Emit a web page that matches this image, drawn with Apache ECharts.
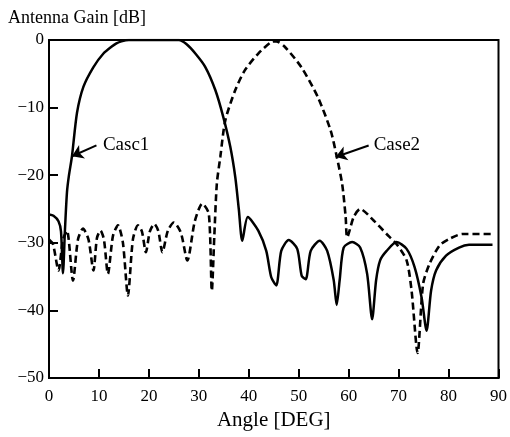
<!DOCTYPE html>
<html>
<head>
<meta charset="utf-8">
<script src="https://cdn.jsdelivr.net/npm/echarts@6/dist/echarts.min.js"></script>
<style>html,body{margin:0;padding:0;background:#fff}#c{width:510px;height:437px}</style>
</head>
<body>
<div id="c"></div>
<script>
const xTicks = [0, 10, 20, 30, 40, 50, 60, 70, 80, 90];
const yTicks = [-50, -40, -30, -20, -10, 0];

const case1Angle = [0, 0.9, 1.9, 2.4, 2.8, 3.2, 3.6, 4.0, 4.6, 5.6, 6.9, 8.9, 10.9, 12.5, 13.5, 14.5, 16, 20, 24, 26, 27.5, 29.3, 31.3, 33.3, 34.9, 36.3, 37.3, 38.0, 38.7, 39.8, 41.9, 43.5, 44.5, 45.5, 46.5, 48.0, 49.7, 50.6, 51.4, 52.4, 54.2, 55.7, 57.0, 57.6, 58.2, 59.0, 60.7, 62.3, 63.7, 64.7, 65.5, 66.3, 67.6, 69.6, 71.6, 73.2, 74.6, 75.6, 76.5, 77.5, 79.5, 82.1, 84.1, 88.8];
const case1Gain = [-25.8, -26.0, -26.8, -28.3, -34.5, -28.0, -22.5, -20.0, -17.2, -10.8, -6.9, -4.0, -2.0, -1.0, -0.5, -0.2, 0, 0, 0, 0, -0.6, -2.0, -4.0, -7.4, -11.4, -15.8, -20.3, -25.0, -29.7, -26.2, -28.2, -31.2, -35.1, -36.3, -31.2, -29.6, -30.9, -34.9, -35.4, -31.2, -29.7, -31.2, -35.5, -39.2, -35.5, -30.7, -29.9, -30.7, -34.6, -41.3, -35.5, -32.6, -31.2, -29.9, -30.9, -33.6, -38.1, -43.0, -37.1, -34.1, -31.9, -30.7, -30.3, -30.3];

const case2Angle = [0, 0.8, 1.9, 2.8, 3.6, 4.8, 5.8, 6.8, 7.9, 8.9, 9.6, 10.3, 11.0, 11.8, 12.8, 13.8, 14.8, 15.8, 16.8, 17.8, 18.6, 19.4, 20.2, 21.1, 21.9, 22.7, 23.8, 25.0, 26.4, 27.7, 29.2, 30.7, 32.0, 32.6, 33.1, 33.6, 34.3, 35.3, 37.3, 39.2, 41.9, 44.5, 45.5, 47.2, 50.5, 53.8, 56.4, 57.6, 58.7, 59.4, 59.7, 61.0, 62.3, 65.0, 67.6, 69.6, 71.6, 72.6, 73.8, 74.9, 76.2, 78.2, 80.2, 82.8, 88.8];
const case2Gain = [-29.5, -30.2, -34.1, -29.5, -28.2, -35.6, -29.5, -27.9, -29.5, -34.1, -29.3, -28.2, -29.5, -34.6, -29.0, -27.4, -30.0, -37.8, -29.5, -27.4, -28.3, -31.4, -28.3, -27.2, -28.3, -31.4, -28.2, -27.0, -28.5, -32.6, -26.8, -24.2, -25.7, -37.1, -29.0, -21.3, -17.3, -11.9, -7.4, -4.5, -2.0, -0.3, -0.2, -1.0, -4.0, -8.4, -13.4, -17.2, -21.3, -26.2, -29.2, -26.2, -25.0, -26.7, -28.7, -30.2, -32.6, -37.1, -46.3, -36.1, -33.1, -30.4, -29.4, -28.7, -28.7];

const labels = ['Casc1', 'Case2'];
const labelAt = [[10.8, -15.6], [65.0, -15.6]];
const arrowFrom = [[9.5, -15.6], [64.0, -15.6]];
const arrowTo = [[4.6, -17.2], [57.4, -17.3]];

const FONT = '"Liberation Serif", "DejaVu Serif", serif';
const pairs = (xs, ys) => xs.map((x, i) => [x, ys[i]]);

function annot(i) {
  return {
    markLine: {
      silent: true, animation: false,
      symbol: ['none', 'arrow'], symbolSize: 11,
      lineStyle: { color: '#000', width: 2, type: 'solid' },
      label: { show: false },
      data: [[{ coord: arrowFrom[i] }, { coord: arrowTo[i] }]]
    },
    markPoint: {
      silent: true, animation: false,
      symbol: 'circle', symbolSize: 0,
      label: { show: true, position: 'right', distance: 0, formatter: labels[i], color: '#000', fontFamily: FONT, fontSize: 19 },
      data: [{ coord: labelAt[i] }]
    }
  };
}

const chart = echarts.init(document.getElementById('c'), null, { renderer: 'canvas' });
chart.setOption({
  animation: false,
  backgroundColor: '#fff',
  title: { text: 'Antenna Gain [dB]', left: 3, top: 4, textStyle: { fontFamily: FONT, fontSize: 18, fontWeight: 'normal', color: '#000' } },
  grid: { left: 49, right: 7, top: 40, bottom: 59, show: true, borderColor: '#000', borderWidth: 2, backgroundColor: 'transparent' },
  xAxis: {
    type: 'value', min: xTicks[0], max: xTicks[xTicks.length - 1], interval: 10,
    name: 'Angle [DEG]', nameLocation: 'middle', nameGap: 31,
    nameTextStyle: { fontFamily: FONT, fontSize: 21, color: '#000' },
    axisLine: { show: true, onZero: false, lineStyle: { color: '#000', width: 2 } },
    axisTick: { show: true, inside: true, length: 9, lineStyle: { color: '#000', width: 2 } },
    axisLabel: { margin: 10, fontFamily: FONT, fontSize: 17, color: '#000' },
    splitLine: { show: false }
  },
  yAxis: {
    type: 'value', min: yTicks[0], max: yTicks[yTicks.length - 1], interval: 10,
    axisLine: { show: true, onZero: false, lineStyle: { color: '#000', width: 2 } },
    axisTick: { show: true, inside: true, length: 9, lineStyle: { color: '#000', width: 2 } },
    axisLabel: { margin: 5, fontFamily: FONT, fontSize: 17, color: '#000', formatter: v => (v < 0 ? '\u2212' + Math.abs(v) : String(v)) },
    splitLine: { show: false }
  },
  series: [
    Object.assign({
      name: 'Case1', type: 'line', data: pairs(case1Angle, case1Gain),
      showSymbol: false, smooth: 0.25, clip: true,
      lineStyle: { color: '#000', width: 2.5 }
    }, annot(0)),
    Object.assign({
      name: 'Case2', type: 'line', data: pairs(case2Angle, case2Gain),
      showSymbol: false, smooth: 0.25, clip: true,
      lineStyle: { color: '#000', width: 2.6, type: [7, 4] }
    }, annot(1))
  ]
});
</script>
</body>
</html>
